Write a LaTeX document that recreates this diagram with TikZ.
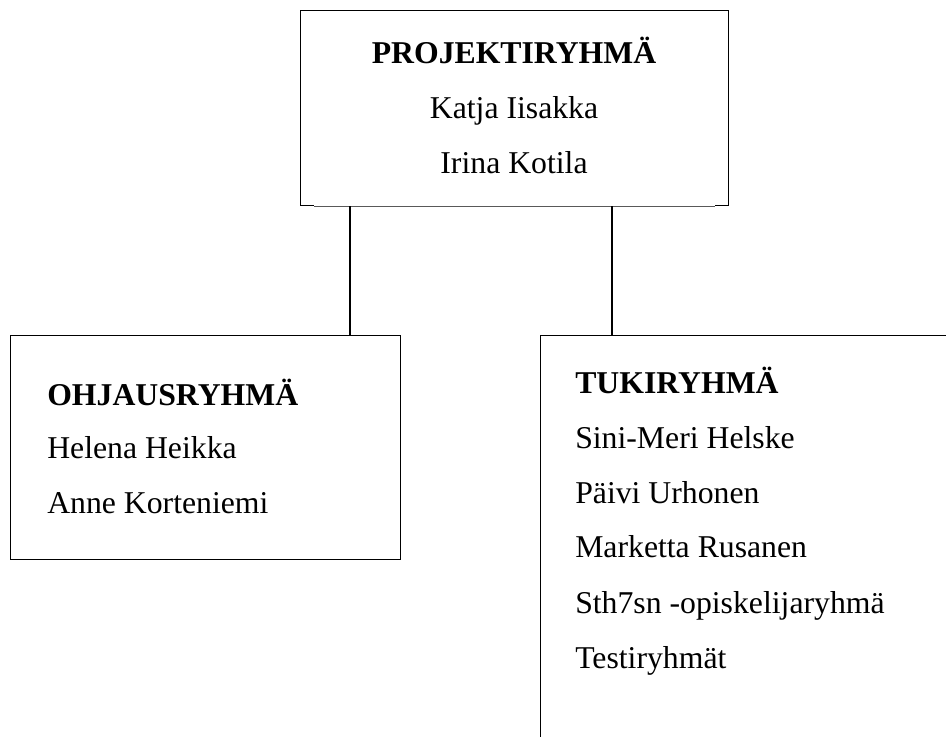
\documentclass[tikz,border=0pt]{standalone}
\usepackage{fontspec}
\setmainfont{Liberation Serif}
\begin{document}
\begin{tikzpicture}[x=0.75pt,y=-0.75pt,
  boxstyle/.style={draw=black,line width=1pt,inner sep=0pt,anchor=north west},
  conn/.style={draw=black,line width=1.1pt},
  txt/.style={inner sep=0pt,font=\fontsize{23.8}{28}\selectfont},
  head/.style={txt,font=\fontsize{23.8}{28}\selectfont\bfseries}]
\clip (0,0) rectangle (946,736);
\fill[white] (0,0) rectangle (946,736);
% boxes
\node[boxstyle,minimum width=321pt,minimum height=146.25pt] (proj) at (300,10) {};
\node[boxstyle,minimum width=292.5pt,minimum height=168pt] (ohj) at (10,335) {};
\node[boxstyle,minimum width=330pt,minimum height=330pt] (tuki) at (540,335) {};
% thin grey middle part of the top box's lower edge
\path (proj.south west) ++(14,0) coordinate (b1);
\path (proj.south east) ++(-14,0) coordinate (b2);
\draw[white,line width=1.3pt] (b1) -- (b2);
\draw[black!65,line width=0.6pt] (b1) -- (b2);
% connectors
\path (proj.south west) ++(50,0) coordinate (c1);
\path (proj.south west) ++(312,0) coordinate (c2);
\draw[conn] (c1) -- (c1 |- ohj.north);
\draw[conn] (c2) -- (c2 |- tuki.north);
% top box text
\node[head,anchor=base] (p0) at (514,63) {PROJEKTIRYHMÄ};
\node[txt,anchor=base] (p1) at (514,118) {Katja Iisakka};
\node[txt,anchor=base] (p2) at (514,173) {Irina Kotila};
% left box text
\node[head,anchor=base west] (o0) at (47,405) {OHJAUSRYHMÄ};
\node[txt,anchor=base west] (o1) at (47,458) {Helena Heikka};
\node[txt,anchor=base west] (o2) at (47,513) {Anne Korteniemi};
% right box text
\node[head,anchor=base west] (k0) at (575,393) {TUKIRYHMÄ};
\node[txt,anchor=base west] (k1) at (575,448) {Sini-Meri Helske};
\node[txt,anchor=base west] (k2) at (575,503) {Päivi Urhonen};
\node[txt,anchor=base west] (k3) at (575,557) {Marketta Rusanen};
\node[txt,anchor=base west] (k4) at (575,613) {Sth7sn -opiskelijaryhmä};
\node[txt,anchor=base west] (k5) at (575,668) {Testiryhmät};
\end{tikzpicture}
\end{document}
